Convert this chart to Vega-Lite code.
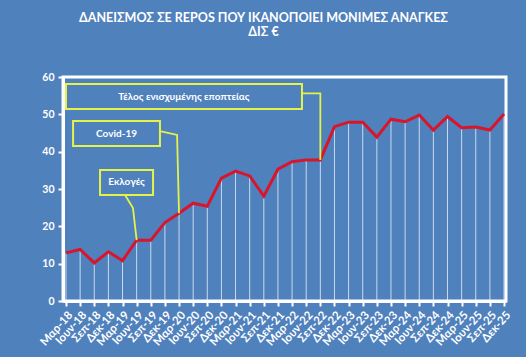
{
  "$schema": "https://vega.github.io/schema/vega-lite/v6.json",
  "autosize": "none",
  "width": 443,
  "height": 224,
  "padding": {"left": 63, "top": 77, "right": 20, "bottom": 56},
  "background": "#4F81BD",
  "title": {
    "text": ["ΔΑΝΕΙΣΜΟΣ ΣΕ REPOS ΠΟΥ ΙΚΑΝΟΠΟΙΕΙ ΜΟΝΙΜΕΣ ΑΝΑΓΚΕΣ", "ΔΙΣ €"],
    "font": "Lato",
    "fontSize": 12.5,
    "fontWeight": "bold",
    "color": "white",
    "anchor": "middle",
    "dx": -21,
    "offset": 34,
    "lineHeight": 14
  },
  "config": {
    "view": {"stroke": "white", "strokeWidth": 3},
    "axis": {
      "domainColor": "white",
      "domainWidth": 3,
      "tickColor": "white",
      "tickWidth": 2,
      "tickSize": 5,
      "labelColor": "white",
      "labelFont": "Lato",
      "labelFontWeight": "bold",
      "labelFontSize": 10.5,
      "grid": false,
      "title": null
    }
  },
  "datasets": {
    "series": [
      {"q": 0, "period": "Μαρ-18", "value": 12.9},
      {"q": 1, "period": "Ιουν-18", "value": 13.8},
      {"q": 2, "period": "Σεπ-18", "value": 10.2},
      {"q": 3, "period": "Δεκ-18", "value": 13.2},
      {"q": 4, "period": "Μαρ-19", "value": 10.8},
      {"q": 5, "period": "Ιουν-19", "value": 16.3},
      {"q": 6, "period": "Σεπ-19", "value": 16.3},
      {"q": 7, "period": "Δεκ-19", "value": 21.0},
      {"q": 8, "period": "Μαρ-20", "value": 23.5},
      {"q": 9, "period": "Ιουν-20", "value": 26.2},
      {"q": 10, "period": "Σεπ-20", "value": 25.4},
      {"q": 11, "period": "Δεκ-20", "value": 32.9},
      {"q": 12, "period": "Μαρ-21", "value": 34.8},
      {"q": 13, "period": "Ιουν-21", "value": 33.5},
      {"q": 14, "period": "Σεπ-21", "value": 28.1},
      {"q": 15, "period": "Δεκ-21", "value": 35.3},
      {"q": 16, "period": "Μαρ-22", "value": 37.3},
      {"q": 17, "period": "Ιουν-22", "value": 37.8},
      {"q": 18, "period": "Σεπ-22", "value": 37.8},
      {"q": 19, "period": "Δεκ-22", "value": 46.7},
      {"q": 20, "period": "Μαρ-23", "value": 47.9},
      {"q": 21, "period": "Ιουν-23", "value": 47.9},
      {"q": 22, "period": "Σεπ-23", "value": 43.9},
      {"q": 23, "period": "Δεκ-23", "value": 48.7},
      {"q": 24, "period": "Μαρ-24", "value": 48.0},
      {"q": 25, "period": "Ιουν-24", "value": 49.8},
      {"q": 26, "period": "Σεπ-24", "value": 45.8},
      {"q": 27, "period": "Δεκ-24", "value": 49.4},
      {"q": 28, "period": "Μαρ-25", "value": 46.4},
      {"q": 29, "period": "Ιουν-25", "value": 46.6},
      {"q": 30, "period": "Σεπ-25", "value": 45.8},
      {"q": 31, "period": "Δεκ-25", "value": 50.1}
    ],
    "boxes": [
      {"label": "Τέλος ενισχυμένης εποπτείας", "q1": 0, "q2": 16.7, "v1": 51.4, "v2": 58.1},
      {"label": "Covid-19", "q1": 0.5, "q2": 6.65, "v1": 41.5, "v2": 48.2},
      {"label": "Εκλογές", "q1": 2.41, "q2": 6.16, "v1": 28.4, "v2": 35.1}
    ],
    "leaders": [
      {"id": "a", "o": 0, "q": 16.6, "value": 55.6},
      {"id": "a", "o": 1, "q": 18, "value": 55.6},
      {"id": "a", "o": 2, "q": 18, "value": 37.8},
      {"id": "b", "o": 0, "q": 6.65, "value": 45.5},
      {"id": "b", "o": 1, "q": 7.86, "value": 44.5},
      {"id": "b", "o": 2, "q": 8, "value": 23.5},
      {"id": "c", "o": 0, "q": 4.18, "value": 28.4},
      {"id": "c", "o": 1, "q": 4.74, "value": 24.9},
      {"id": "c", "o": 2, "q": 5, "value": 16.3}
    ]
  },
  "encoding": {
    "x": {
      "field": "q",
      "type": "quantitative",
      "scale": {"domain": [-0.212, 31.14], "nice": false, "zero": false},
      "axis": {
        "values": [0,1,2,3,4,5,6,7,8,9,10,11,12,13,14,15,16,17,18,19,20,21,22,23,24,25,26,27,28,29,30,31],
        "labelExpr": "['Μαρ-18','Ιουν-18','Σεπ-18','Δεκ-18','Μαρ-19','Ιουν-19','Σεπ-19','Δεκ-19','Μαρ-20','Ιουν-20','Σεπ-20','Δεκ-20','Μαρ-21','Ιουν-21','Σεπ-21','Δεκ-21','Μαρ-22','Ιουν-22','Σεπ-22','Δεκ-22','Μαρ-23','Ιουν-23','Σεπ-23','Δεκ-23','Μαρ-24','Ιουν-24','Σεπ-24','Δεκ-24','Μαρ-25','Ιουν-25','Σεπ-25','Δεκ-25'][datum.value]",
        "labelAngle": -48,
        "labelAlign": "right",
        "labelBaseline": "top",
        "labelPadding": 3,
        "labelFontSize": 11.5,
        "labelOverlap": false,
        "labelFlush": false
      }
    },
    "y": {
      "field": "value",
      "type": "quantitative",
      "scale": {"domain": [0, 60], "nice": false},
      "axis": {"values": [0, 10, 20, 30, 40, 50, 60], "labelPadding": 4}
    }
  },
  "layer": [
    {
      "data": {"name": "series"},
      "mark": {"type": "rule", "color": "white", "strokeWidth": 1, "opacity": 0.7},
      "encoding": {"y2": {"datum": 0}}
    },
    {
      "data": {"name": "series"},
      "mark": {"type": "line", "color": "#D9152B", "strokeWidth": 3, "strokeJoin": "miter"},
      "encoding": {}
    },
    {
      "data": {"name": "leaders"},
      "mark": {"type": "line", "color": "#E4F24A", "strokeWidth": 1.8},
      "encoding": {
        "detail": {"field": "id"},
        "order": {"field": "o"}
      }
    },
    {
      "data": {"name": "boxes"},
      "mark": {"type": "rect", "fill": "#4F81BD", "stroke": "#E4F24A", "strokeWidth": 2},
      "encoding": {
        "x": {"field": "q1", "type": "quantitative"},
        "x2": {"field": "q2"},
        "y": {"field": "v1", "type": "quantitative"},
        "y2": {"field": "v2"}
      }
    },
    {
      "data": {"name": "boxes"},
      "transform": [
        {"calculate": "(datum.q1 + datum.q2) / 2", "as": "qc"},
        {"calculate": "(datum.v1 + datum.v2) / 2", "as": "vc"}
      ],
      "mark": {"type": "text", "color": "white", "font": "Lato", "fontWeight": "bold", "fontSize": 10, "align": "center", "baseline": "middle"},
      "encoding": {
        "x": {"field": "qc", "type": "quantitative"},
        "y": {"field": "vc", "type": "quantitative"},
        "text": {"field": "label"}
      }
    }
  ]
}
